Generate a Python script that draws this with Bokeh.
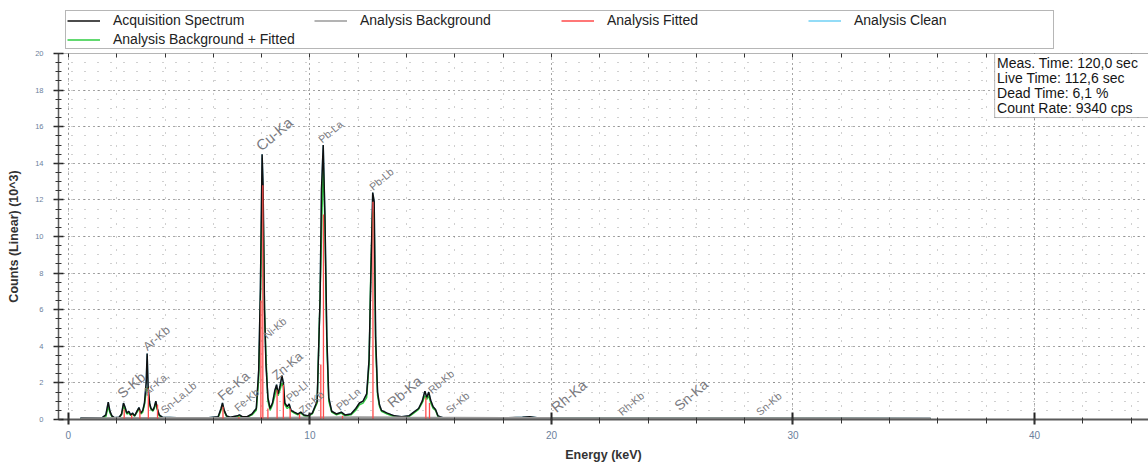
from bokeh.plotting import figure
from bokeh.layouts import column
from bokeh.models import (Range1d, FixedTicker, Legend, LegendItem, ColumnDataSource,
                          Label, BoxAnnotation, LinearAxis)
from bokeh.core.properties import value
from bokeh.embed import file_html
from bokeh.resources import INLINE

# ---------------- data (energy in keV, counts in 10^3) ----------------
acq_energy = [0.50, 1.40, 1.55, 1.65, 1.72, 1.80, 1.90, 2.10, 2.20, 2.28, 2.34, 2.42, 2.50,
              2.58, 2.66, 2.74, 2.82, 2.92, 3.00, 3.08, 3.15, 3.22, 3.26, 3.30, 3.36, 3.42,
              3.50, 3.56, 3.62, 3.68, 3.76, 3.90, 4.50, 5.80, 6.20, 6.32, 6.38, 6.45, 6.55,
              6.70, 7.00, 7.08, 7.20, 7.40, 7.60, 7.78, 7.88, 7.95, 8.02, 8.06, 8.12, 8.18,
              8.26, 8.35, 8.45, 8.55, 8.62, 8.68, 8.76, 8.84, 8.90, 8.96, 9.06, 9.14, 9.22,
              9.35, 9.50, 9.62, 9.75, 9.90, 10.10, 10.30, 10.42, 10.48, 10.55, 10.62, 10.70,
              10.78, 10.90, 11.10, 11.30, 11.45, 11.70, 11.90, 12.05, 12.20, 12.35, 12.45,
              12.52, 12.60, 12.66, 12.72, 12.80, 12.88, 12.96, 13.20, 13.50, 13.80, 14.10,
              14.30, 14.50, 14.65, 14.76, 14.84, 14.92, 15.00, 15.10, 15.20, 15.30, 15.50,
              16.00, 18.00, 18.80, 19.10, 19.40, 20.00, 35.70]
acq_counts = [0.08, 0.10, 0.25, 0.95, 0.45, 0.20, 0.10, 0.12, 0.30, 0.90, 0.70, 0.35, 0.45,
              0.25, 0.35, 0.20, 0.40, 0.65, 0.35, 0.50, 0.90, 2.00, 3.60, 1.80, 0.90, 0.60,
              0.50, 0.70, 1.00, 0.60, 0.25, 0.12, 0.10, 0.10, 0.15, 0.60, 0.90, 0.50, 0.20,
              0.12, 0.20, 0.25, 0.15, 0.15, 0.30, 0.60, 2.70, 7.20, 14.50, 12.80, 6.00, 3.00,
              1.20, 0.60, 0.90, 1.60, 1.90, 1.40, 1.80, 2.40, 2.00, 0.90, 0.70, 0.85, 0.50,
              0.40, 0.30, 0.40, 0.25, 0.20, 0.35, 1.00, 6.60, 12.60, 15.00, 11.20, 4.50,
              1.20, 0.45, 0.30, 0.40, 0.25, 0.30, 0.60, 0.90, 1.00, 1.40, 3.30,
              7.70, 12.40, 11.90, 4.50, 1.50, 0.80, 0.50, 0.35, 0.20, 0.15, 0.20,
              0.40, 0.60, 1.00, 1.55, 1.20, 1.50, 1.05, 0.70, 0.55, 0.20, 0.10,
              0.08, 0.08, 0.12, 0.15, 0.10, 0.08, 0.06]
bkg_fitted_counts = [0.05, 0.06, 0.15, 0.70, 0.35, 0.15, 0.07, 0.08, 0.25, 0.75, 0.55, 0.30, 0.35,
                     0.22, 0.30, 0.18, 0.35, 0.55, 0.30, 0.40, 0.80, 1.50, 1.75, 1.60, 0.80, 0.55,
                     0.45, 0.60, 0.90, 0.55, 0.20, 0.08, 0.07, 0.07, 0.10, 0.50, 0.75, 0.45, 0.15,
                     0.08, 0.15, 0.20, 0.12, 0.12, 0.25, 0.50, 2.20, 6.00, 13.00, 12.00, 6.00, 3.50,
                     1.00, 0.50, 0.80, 1.30, 1.70, 1.30, 1.60, 2.00, 1.80, 0.80, 0.60, 0.70, 0.45,
                     0.35, 0.25, 0.35, 0.20, 0.15, 0.30, 0.90, 6.70, 10.00, 14.00, 10.50, 4.00,
                     1.00, 0.40, 0.25, 0.35, 0.20, 0.25, 0.50, 0.80, 0.90, 1.20, 3.00,
                     8.20, 11.50, 11.00, 4.00, 1.30, 0.70, 0.45, 0.30, 0.15, 0.12, 0.15,
                     0.35, 0.55, 0.90, 1.30, 1.10, 1.30, 0.90, 0.60, 0.50, 0.15, 0.07,
                     0.06, 0.06, 0.08, 0.10, 0.07, 0.06, 0.05]
bkg_energy = [0.5, 2.0, 4.0, 8.0, 10.0, 12.0, 14.0, 18.0, 20.0, 30.0, 35.7]
bkg_counts = [0.05, 0.08, 0.08, 0.07, 0.10, 0.12, 0.10, 0.08, 0.07, 0.06, 0.05]
fit_peak_energy = [2.31, 2.62, 2.96, 3.31, 3.69, 6.40, 7.06, 7.97, 8.05, 8.26, 8.64, 8.90,
                   9.18, 9.57, 10.45, 10.56, 11.35, 12.61, 14.80, 14.95]
fit_peak_counts = [0.55, 0.25, 0.50, 1.70, 0.80, 0.70, 0.15, 6.50, 12.80, 0.60, 1.60, 1.90,
                   0.60, 0.30, 3.00, 11.20, 0.20, 11.90, 1.20, 0.90]
line_names = ["S-Kb", "Ar-Ka,", "Ar-Kb", "Sn-La,Lb", "Fe-Ka", "Fe-Kb", "Cu-Ka", "Ni-Kb",
              "Zn-Ka", "Pb-Ll", "Zn-Kb", "Pb-La", "Pb-Ln", "Pb-Lb", "Rb-Ka", "Rb-Kb",
              "Sr-Kb", "Rh-Ka", "Rh-Kb", "Sn-Ka", "Sn-Kb"]
line_energy = [2.28, 3.27, 3.31, 4.00, 6.42, 7.04, 8.03, 8.24, 8.66, 9.19, 9.73, 10.52,
               11.26, 12.63, 13.46, 15.07, 15.80, 20.25, 22.94, 25.34, 28.65]
line_counts = [1.00, 1.20, 3.60, 0.20, 0.87, 0.33, 14.50, 4.30, 2.00, 0.87, 0.20, 15.00,
               0.38, 12.40, 0.49, 1.30, 0.20, 0.22, 0.10, 0.33, 0.10]
x_tick_values = [0, 10, 20, 30, 40]
y_tick_values = [0, 2, 4, 6, 8, 10, 12, 14, 16, 18, 20]
info_lines = ["Meas. Time: 120,0 sec", "Live Time: 112,6 sec", "Dead Time: 6,1 %",
              "Count Rate: 9340 cps"]
series_names = ["Acquisition Spectrum", "Analysis Background", "Analysis Fitted",
                "Analysis Clean", "Analysis Background + Fitted"]

# ---------------- styles ----------------
FONT = "Liberation Sans"
C_ACQ, C_BKG, C_FIT, C_CLEAN, C_BF = "#111111", "#9a9a9a", "#ff4a4a", "#6fd0f5", "#2ecc40"
NAN = float("nan")

# ---------------- main figure ----------------
p = figure(width=1148, height=414, output_backend="svg", toolbar_location=None,
           x_range=Range1d(-0.41, 44.72), y_range=Range1d(0, 20),
           min_border_left=58, min_border_right=0, min_border_top=3, min_border_bottom=45,
           background_fill_color="white", border_fill_color="white")
p.outline_line_color = None

xa = p.xaxis[0]
xa.ticker = FixedTicker(ticks=x_tick_values, minor_ticks=list(range(0, 46, 2)))
xa.axis_line_color = "#5a5a5a"
xa.axis_line_width = 2
xa.major_tick_line_color = "#222222"
xa.major_tick_line_width = 2
xa.major_tick_in = 7
xa.major_tick_out = 5
xa.minor_tick_line_color = "#333333"
xa.minor_tick_in = 2
xa.minor_tick_out = 4
xa.major_label_text_font = FONT
xa.major_label_text_font_size = "10px"
xa.major_label_text_color = "#6c7f9c"
xa.major_label_standoff = 6
xa.axis_label = "Energy (keV)"
xa.axis_label_text_font = FONT
xa.axis_label_text_font_style = "bold"
xa.axis_label_text_font_size = "12.5px"
xa.axis_label_text_color = "#333333"
xa.axis_label_standoff = 6

ya = p.yaxis[0]
ya.ticker = FixedTicker(ticks=y_tick_values, minor_ticks=[i * 0.5 for i in range(41)])
ya.axis_line_color = "#5a5a5a"
ya.axis_line_width = 1.5
ya.major_tick_line_color = "#222222"
ya.major_tick_line_width = 1.5
ya.major_tick_in = 5
ya.major_tick_out = 5
ya.minor_tick_line_color = "#333333"
ya.minor_tick_in = 3
ya.minor_tick_out = 3
ya.major_label_text_font = FONT
ya.major_label_text_font_size = "7.5px"
ya.major_label_text_color = "#6c7f9c"
ya.major_label_standoff = 10
ya.axis_label = "Counts (Linear) (10^3)"
ya.axis_label_text_font = FONT
ya.axis_label_text_font_style = "bold"
ya.axis_label_text_font_size = "12.5px"
ya.axis_label_text_color = "#333333"
ya.axis_label_standoff = 11

top = LinearAxis(ticker=FixedTicker(ticks=[], minor_ticks=list(range(0, 46, 2))),
                 axis_line_color="#b5b5b5", minor_tick_in=4, minor_tick_out=0,
                 minor_tick_line_color="#333333", major_tick_in=0, major_tick_out=0)
p.add_layout(top, "above")

for g, t in ((p.xgrid[0], xa.ticker), (p.ygrid[0], ya.ticker)):
    g.ticker = t
    g.grid_line_color = "#505050"
    g.grid_line_dash = "1 4"
    g.grid_line_width = 1
    g.minor_grid_line_color = "#a0a0a0"
    g.minor_grid_line_dash = "1 12"
    g.minor_grid_line_width = 1

# ---------------- series ----------------
src = ColumnDataSource(dict(energy=acq_energy, acq=acq_counts, bf=bkg_fitted_counts))
p.line("energy", "acq", source=src, color=C_CLEAN, line_width=1.4)
p.line("energy", "bf", source=src, color=C_BF, line_width=1.4)
p.line("energy", "acq", source=src, color=C_ACQ, line_width=1.5)
p.line(bkg_energy, bkg_counts, color=C_BKG, line_width=2.2)
p.segment(x0=fit_peak_energy, y0=[0] * len(fit_peak_energy), x1=fit_peak_energy,
          y1=fit_peak_counts, color=C_FIT, line_width=1.3)

# element line labels
big = {"S-Kb": "14px", "Fe-Ka": "13.5px", "Cu-Ka": "15px", "Zn-Ka": "13px", "Rb-Ka": "14px",
       "Rh-Ka": "14.5px", "Sn-Ka": "14px", "Ar-Kb": "12px"}
lab_src = ColumnDataSource(dict(x=line_energy, y=line_counts, t=line_names,
                                s=[big.get(n, "10.5px") for n in line_names]))
p.text(x="x", y="y", text="t", source=lab_src, angle=0.70, text_font=value(FONT),
       text_font_size="s", text_color="#7a7a80", text_align="left", text_baseline="bottom",
       x_offset=1)

# info box
p.add_layout(BoxAnnotation(left=38.35, right=60, top=20, bottom=16.5, fill_color="white",
                           fill_alpha=1, line_color="#111111", line_width=1, level="overlay"))
for i, t in enumerate(info_lines):
    p.add_layout(Label(x=38.45, y=20 - (9 + 15 * i) / 18.3, text=t, text_font=FONT,
                       text_font_size="14px", text_color="#151515", text_baseline="middle",
                       level="overlay"))

# ---------------- legend strip above the chart ----------------
lf = figure(width=1148, height=50, output_backend="svg", toolbar_location=None,
            x_range=Range1d(0, 1), y_range=Range1d(0, 1), x_axis_type=None, y_axis_type=None,
            min_border=0, min_border_left=0, min_border_right=0, min_border_top=0,
            min_border_bottom=0, background_fill_color="white", border_fill_color="white")
lf.outline_line_color = None
swatches = []
for c, w in ((C_ACQ, 1.5), (C_BKG, 1.5), (C_FIT, 1.3), (C_CLEAN, 1.4), (C_BF, 1.4)):
    swatches.append(lf.line(x=[NAN, NAN], y=[NAN, NAN], color=c, line_width=w))
legend = Legend(items=[LegendItem(label=n, renderers=[r], index=0)
                       for n, r in zip(series_names, swatches)],
                orientation="horizontal", ncols=4, location=(7, 1))
legend.label_text_font = FONT
legend.label_text_font_size = "14px"
legend.label_text_color = "#222222"
legend.label_height = 15
legend.glyph_height = 15
legend.glyph_width = 33
legend.label_standoff = 13
legend.label_width = 198
legend.spacing = 3
legend.padding = 1
legend.margin = 0
legend.border_line_color = "#6e6e6e"
legend.border_line_width = 1.5
legend.background_fill_color = "white"
legend.background_fill_alpha = 1
lf.add_layout(legend)

layout = column(lf, p, spacing=0)
open("out.html", "w").write(file_html(layout, INLINE))
